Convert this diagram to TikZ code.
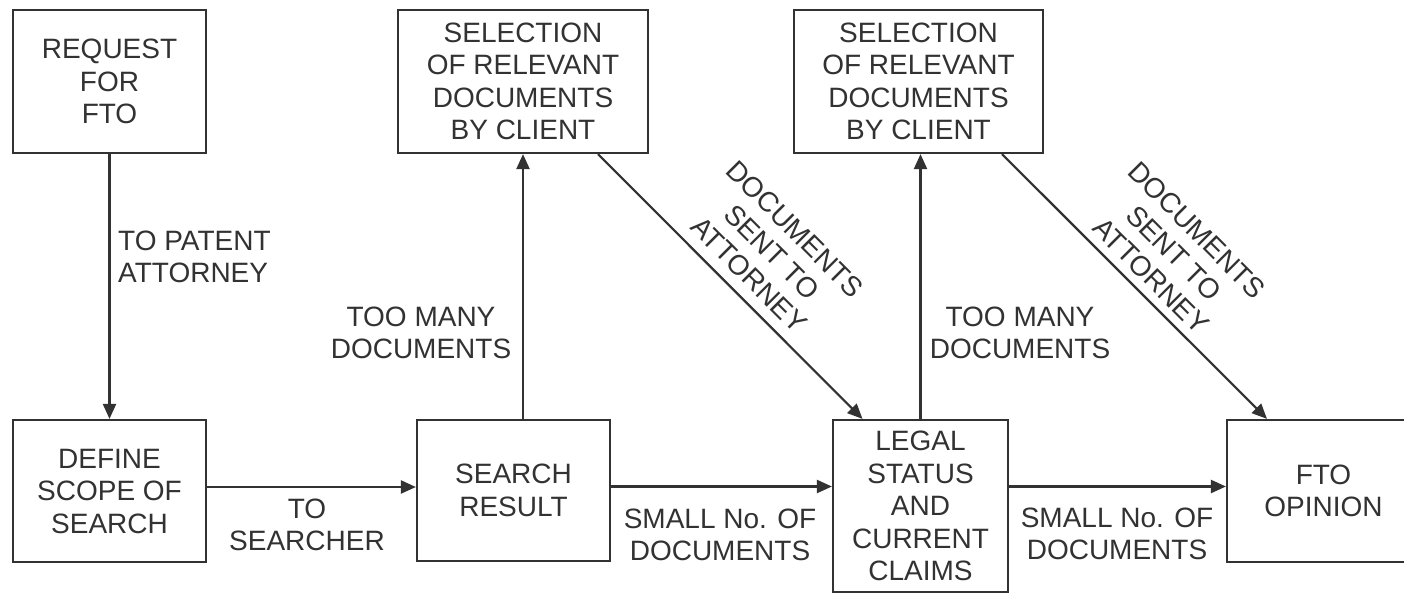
\documentclass[tikz,border=0pt]{standalone}
\usepackage{fontspec}
\setmainfont{Liberation Sans}
\usetikzlibrary{arrows.meta}
\definecolor{ink}{RGB}{50,50,50}
\begin{document}
\begin{tikzpicture}[x=1pt,y=-1pt,
  box/.style={draw=ink, line width=2.2pt, rectangle, inner sep=0pt, align=center,
    text=ink, font=\fontsize{28pt}{32.5pt}\selectfont},
  lbl/.style={inner sep=0pt, align=center, text=ink, font=\fontsize{28pt}{32.5pt}\selectfont},
  arr/.style={draw=ink, line width=2.2pt, -{Triangle[length=15pt,width=13pt]}},
]
\useasboundingbox (0,0) rectangle (1404,594);
\clip (0,0) rectangle (1404,594);
\fill[white] (0,0) rectangle (1404,594);

% boxes
\node[box, minimum width=193pt, minimum height=143pt] (req) at (109.5,81.5) {REQUEST\\FOR\\FTO};
\node[box, minimum width=193pt, minimum height=142pt] (def) at (109.5,491) {DEFINE\\SCOPE OF\\SEARCH};
\node[box, minimum width=193pt, minimum height=141pt] (sr) at (513.5,490.5) {SEARCH\\RESULT};
\node[box, minimum width=250pt, minimum height=143pt] (sel1) at (523,81.5) {SELECTION\\OF RELEVANT\\DOCUMENTS\\BY CLIENT};
\node[box, minimum width=175pt, minimum height=172pt] (legal) at (920.5,506) {LEGAL\\STATUS\\AND\\CURRENT\\CLAIMS};
\node[box, minimum width=249pt, minimum height=143pt] (sel2) at (918.5,81.5) {SELECTION\\OF RELEVANT\\DOCUMENTS\\BY CLIENT};
\node[box, minimum width=193pt, minimum height=142pt] (fto) at (1323.5,491) {FTO\\OPINION};

% connectors
\draw[arr] (req.south) -- (def.north);

\coordinate (h1) at ([yshift=4pt]def.east);
\draw[arr] (h1) -- (h1 -| sr.west);

\coordinate (h2) at ([yshift=4pt]sr.east);
\draw[arr] (h2) -- (h2 -| legal.west);

\coordinate (h3) at (legal.east |- h2);
\draw[arr] (h3) -- (h3 -| fto.west);

\draw[arr] (sr.north -| sel1.south) -- (sel1.south);
\draw[arr] (legal.north) -- (legal.north |- sel2.south);

\draw[arr] ([xshift=75pt]sel1.south) -- ([xshift=-58pt]legal.north);
\draw[arr] ([xshift=83.5pt]sel2.south) -- ([xshift=-56.5pt]fto.north);

% labels
\node[lbl, anchor=west, align=left] (l1) at (118,257) {TO PATENT\\ATTORNEY};
\node[lbl] (l2) at (307,525) {TO\\SEARCHER};
\node[lbl] (l3) at (421,333) {TOO MANY\\DOCUMENTS};
\node[lbl] (l4) at (720,535) {SMALL No. OF\\DOCUMENTS};
\node[lbl] (l5) at (1020,333) {TOO MANY\\DOCUMENTS};
\node[lbl] (l6) at (1117,534) {SMALL No. OF\\DOCUMENTS};
\node[lbl, rotate=-45] (l7) at (772,252) {DOCUMENTS\\SENT TO\\ATTORNEY};
\node[lbl, rotate=-45] (l8) at (1174,253) {DOCUMENTS\\SENT TO\\ATTORNEY};
\end{tikzpicture}
\end{document}
